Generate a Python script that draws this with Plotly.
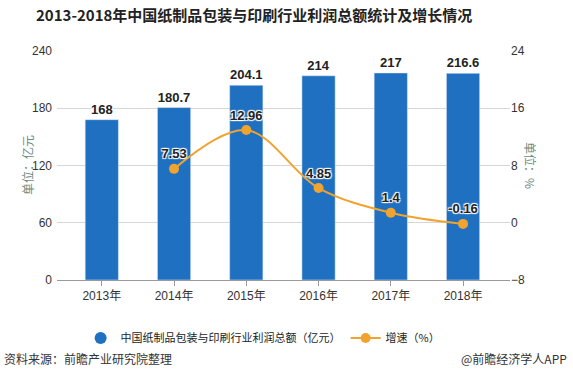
import plotly.graph_objects as go

categories = ["2013年", "2014年", "2015年", "2016年", "2017年", "2018年"]
profit = [168, 180.7, 204.1, 214, 217, 216.6]
growth = [None, 7.53, 12.96, 4.85, 1.4, -0.16]
left_ticks = [0, 60, 120, 180, 240]
right_ticks = [-8, 0, 8, 16, 24]

bar_color = "#1f70c0"
line_color = "#f0a32f"
halo = "1px 1px 1px #fff, -1px -1px 1px #fff, 1px -1px 1px #fff, -1px 1px 1px #fff"
FONT = "Liberation Sans, Noto Sans CJK SC, sans-serif"
CJK = "Noto Sans CJK SC, sans-serif"

xi = list(range(len(categories)))

fig = go.Figure()
fig.add_trace(go.Bar(
    x=xi, y=profit, width=0.46, marker_color=bar_color, showlegend=False,
    text=[str(v) for v in profit], textposition="outside", cliponaxis=False,
    textfont=dict(family=FONT, size=13, color="#222", weight="bold", shadow=halo),
    hoverinfo="skip",
))
# legend proxy for bars (circle marker)
fig.add_trace(go.Scatter(
    x=[None], y=[None], mode="markers", name="中国纸制品包装与印刷行业利润总额（亿元）",
    marker=dict(color=bar_color, size=12, symbol="circle"),
))
fig.add_trace(go.Scatter(
    x=xi, y=growth, yaxis="y2", mode="lines+markers+text", name="增速（%）",
    line=dict(color=line_color, width=2, shape="spline", smoothing=1),
    marker=dict(color=line_color, size=10),
    text=["" if v is None else str(v) for v in growth], textposition="top center",
    textfont=dict(family=FONT, size=13, color="#222", weight="bold", shadow=halo),
    cliponaxis=False,
))

fig.update_layout(
    width=573, height=371,
    margin=dict(l=57, r=63, t=51, b=91, autoexpand=False),
    paper_bgcolor="white", plot_bgcolor="white",
    font=dict(family=FONT, size=12, color="#333"),
    bargap=0.5,
    xaxis=dict(
        tickmode="array", tickvals=xi, ticktext=categories, range=[-0.62, 5.65],
        showline=True, linecolor="#999", linewidth=1, ticks="outside", ticklen=5,
        tickcolor="#999", showgrid=False, zeroline=False,
        tickfont=dict(family=FONT, size=12, color="#333"),
    ),
    yaxis=dict(
        range=[0, 240], tickvals=left_ticks, showgrid=True, gridcolor="#d6d6d6",
        zeroline=False, showline=False, ticks="", ticklabelstandoff=4,
        tickfont=dict(family=FONT, size=12, color="#333"),
    ),
    yaxis2=dict(
        range=[-8, 24], tickvals=right_ticks, overlaying="y", side="right",
        showgrid=False, zeroline=False, showline=False, ticks="",
        tickfont=dict(family=FONT, size=12, color="#333"),
    ),
    legend=dict(
        orientation="h", x=0.455, xanchor="center", y=-0.19, yanchor="top",
        font=dict(family=CJK, size=11, color="#222"), itemwidth=30,
    ),
    showlegend=True,
)

fig.add_annotation(
    text="<b>2013-2018年中国纸制品包装与印刷行业利润总额统计及增长情况</b>",
    xref="paper", yref="paper", x=0.435, y=1.0, yshift=37, xanchor="center", yanchor="middle",
    showarrow=False, font=dict(family=CJK, size=15, color="#222"),
)
fig.add_annotation(
    text="单位：亿元", xref="paper", yref="paper", x=0, xshift=-40, y=0.5,
    textangle=-90, showarrow=False, font=dict(family=CJK, size=12, color="#6a8c80"),
)
fig.add_annotation(
    text="单位：%", xref="paper", yref="paper", x=1, xshift=31, y=0.5,
    textangle=90, showarrow=False, font=dict(family=CJK, size=12, color="#6a8c80"),
)
fig.add_annotation(
    text="资料来源：前瞻产业研究院整理", xref="paper", yref="paper",
    x=0, xshift=-55, y=0, yshift=-78, xanchor="left", yanchor="middle",
    showarrow=False, font=dict(family=CJK, size=12, color="#333"),
)
fig.add_annotation(
    text="@前瞻经济学人APP", xref="paper", yref="paper",
    x=1, xshift=59, y=0, yshift=-78, xanchor="right", yanchor="middle",
    showarrow=False, font=dict(family=CJK, size=12, color="#333"),
)

fig.write_html(
    "out.html",
    config={"displayModeBar": False},
    post_script="document.body.style.margin='0';document.body.style.overflow='hidden';",
)
